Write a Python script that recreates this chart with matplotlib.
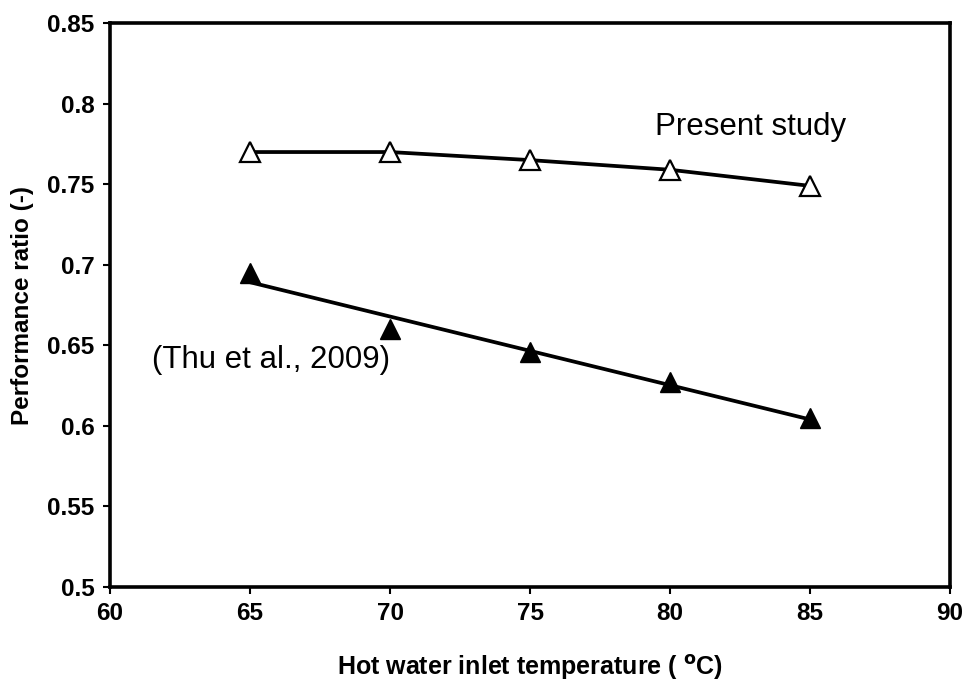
import numpy as np
import matplotlib.pyplot as plt

plt.rcParams['font.family'] = ['Liberation Sans', 'DejaVu Sans']

# hot water inlet temperature (C)
temp = [65, 70, 75, 80, 85]
# performance ratio
pr_present = [0.770, 0.770, 0.765, 0.759, 0.749]
pr_thu = [0.695, 0.660, 0.646, 0.627, 0.605]

fig = plt.figure(figsize=(9.75, 6.81), dpi=100)
ax = fig.add_axes([0.1128, 0.138, 0.8616, 0.828])

# present study: markers joined by a line
ax.plot(temp, pr_present, color='black', lw=2.7, marker='^', ms=14,
        mfc='white', mec='black', mew=1.6, zorder=3)

# Thu et al.: markers with a linear trend line
ax.plot(temp, pr_thu, ls='none', marker='^', ms=14, mfc='black', mec='black', zorder=3)
coef = np.polyfit(temp, pr_thu, 1)
xt = np.array([temp[0], temp[-1]])
ax.plot(xt, np.polyval(coef, xt), color='black', lw=2.7, zorder=2)

ax.text(79.45, 0.7855, 'Present study', fontsize=22.5, va='center', ha='left')
ax.text(61.5, 0.641, '(Thu et al., 2009)', fontsize=22.5, va='center', ha='left')

ax.set_xlim(60, 90)
ax.set_ylim(0.5, 0.85)
ax.set_xticks(np.arange(60, 91, 5))
ax.set_yticks(np.arange(0.5, 0.851, 0.05))
ax.set_yticklabels(['0.5', '0.55', '0.6', '0.65', '0.7', '0.75', '0.8', '0.85'])

for s in ax.spines.values():
    s.set_linewidth(2.6)
ax.tick_params(direction='out', length=5, width=1.5, labelsize=17.5, pad=6)
for lab in ax.get_xticklabels() + ax.get_yticklabels():
    lab.set_fontweight('bold')

ax.set_xlabel(r'Hot water inlet temperature ( $^{\mathbf{o}}$C)', fontsize=18,
              fontweight='bold', labelpad=20)
ax.set_ylabel('Performance ratio (-)', fontsize=17.5, fontweight='bold', labelpad=10)

fig.savefig('out.png', dpi=100)
